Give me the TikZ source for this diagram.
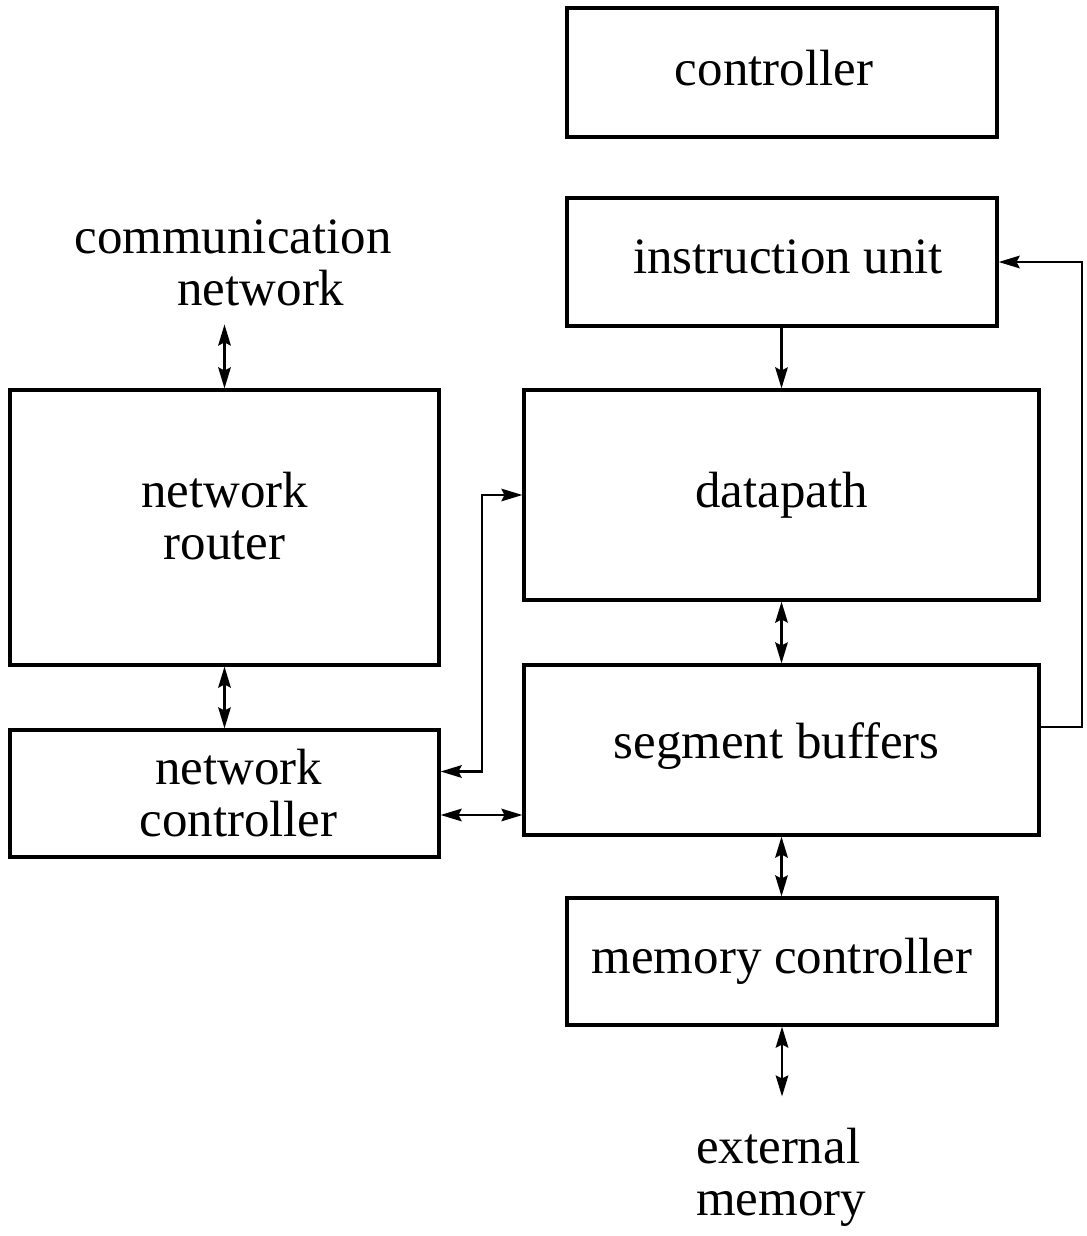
\documentclass[tikz,border=0pt]{standalone}
\usepackage{fontspec}
\setmainfont{Liberation Serif}
\usetikzlibrary{arrows.meta,calc}
\begin{document}
\begin{tikzpicture}[x=0.02cm,y=-0.02cm,
  block/.style={draw,line width=1.8pt,inner sep=0pt,align=center,
    font=\fontsize{29pt}{29.6pt}\selectfont},
  lbl/.style={inner xsep=0pt,inner ysep=0.36cm,
    font=\fontsize{29pt}{29.6pt}\selectfont},
  tip/.tip={Stealth[length=0.42cm,width=0.25cm,inset=0.06cm]},
  sgl/.style={line width=1.4pt,-tip},
  dbl/.style={line width=1.4pt,tip-tip}]
\useasboundingbox (0,0) rectangle (1086,1236);

% processor blocks
\node[block,minimum width=430*0.02cm,minimum height=129*0.02cm,text depth=0.2cm] (ctrl) at (782,72.5) {\hspace*{-0.32cm}controller};
\node[block,minimum width=430*0.02cm,minimum height=128*0.02cm,text depth=0.2cm] (instr) at (782,262) {\hspace*{0.24cm}instruction unit};
\node[block,minimum width=515*0.02cm,minimum height=210*0.02cm] (dp) at (781.5,495) {datapath};
\node[block,minimum width=515*0.02cm,minimum height=170*0.02cm,text depth=0.38cm] (seg) at (781.5,750) {\hspace*{-0.2cm}segment buffers};
\node[block,minimum width=430*0.02cm,minimum height=127*0.02cm] (mem) at (782,961.5) {memory controller};

% network side
\node[block,minimum width=429*0.02cm,minimum height=275*0.02cm,text depth=0.48cm] (router) at (224.5,527.5) {network\\router};
\node[block,minimum width=429*0.02cm,minimum height=127*0.02cm] (netc) at (224.5,793.5) {\hspace*{0.56cm}network\\\hspace*{0.56cm}controller};

% outside connections
\node[lbl,align=left] (comm) at (233,263) {communication\\\hspace*{2.06cm}network};
\node[lbl,align=left,inner ysep=0.62cm] (ext) at (781,1177) {external\\memory};

% connectors
\draw[dbl] (router.north |- comm.south) -- (router.north);
\draw[dbl] (router.south) -- (netc.north);
\draw[sgl] (instr.south -| dp.north) -- (dp.north);
\draw[dbl] (dp.south) -- (seg.north);
\draw[dbl] (seg.south) -- (seg.south |- mem.north);
\draw[dbl] (mem.south) -- (mem.south |- ext.north);
\coordinate (nc1) at ($(netc.east)+(0,-22)$);
\coordinate (nc2) at ($(netc.east)+(0,21.5)$);
\coordinate (sb1) at ($(seg.east)+(0,-23)$);
\draw[dbl] (nc1) -| (482,495) -- (dp.west);
\draw[dbl] (nc2) -- (nc2 -| seg.west);
\draw[sgl] (sb1) -| (1082,262) -- (instr.east);
\end{tikzpicture}
\end{document}
